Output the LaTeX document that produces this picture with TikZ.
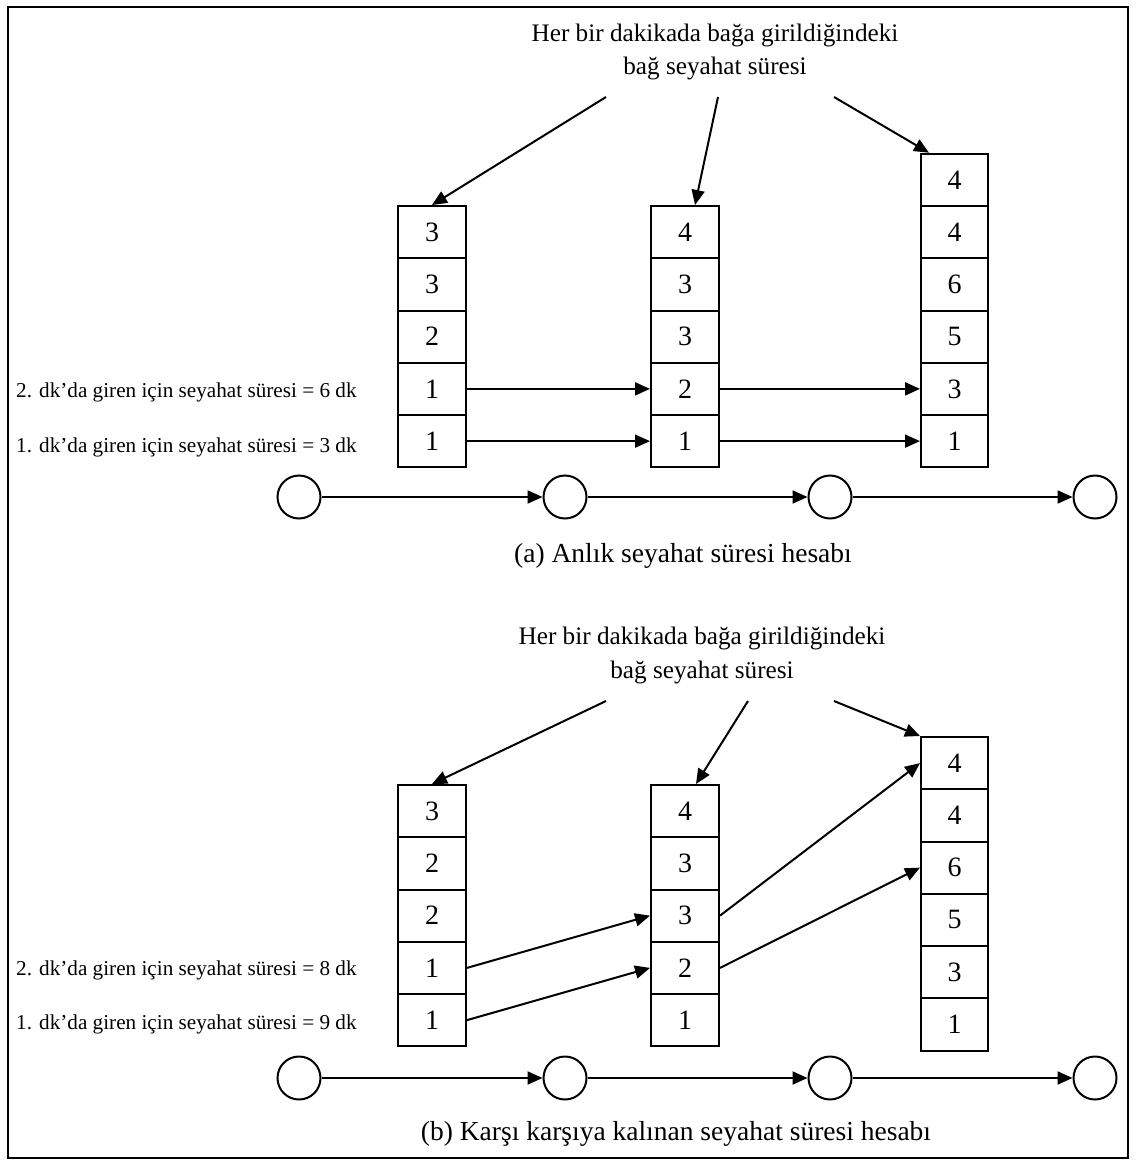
\documentclass[tikz,border=0pt]{standalone}
\usepackage{fontspec}
\setmainfont{Liberation Serif}
\usetikzlibrary{arrows.meta,calc}
\begin{document}
\begin{tikzpicture}[x=1pt,y=-1pt,
  cell/.style={draw,line width=2pt,minimum width=68pt,minimum height=52.25pt,
    inner sep=0pt,font=\fontsize{28}{30}\selectfont},
  junction/.style={draw,circle,line width=2pt,minimum size=43pt,inner sep=0pt},
  flow/.style={line width=2pt,-{Triangle[length=15pt,width=13pt]}},
  headtext/.style={font=\fontsize{25.2}{30}\selectfont,anchor=base,inner sep=0pt},
  sidetext/.style={font=\fontsize{21.2}{25}\selectfont,anchor=base west,inner sep=0pt},
  captext/.style={font=\fontsize{27.5}{30}\selectfont,anchor=base,inner sep=0pt}]

\useasboundingbox (0,0) rectangle (1135,1161);
\fill[white] (0,0) rectangle (1135,1161);
\draw[line width=1.4pt] (8,7) rectangle (1128,1158);

% ---------- (a) instantaneous travel time ----------
\node[headtext] (hdrA1) at (715,42) {Her bir dakikada bağa girildiğindeki};
\node[headtext] (hdrA2) at (715,75) {bağ seyahat süresi};

\foreach \v [count=\i] in {3,3,2,1,1}
  \node[cell] (a1r\i) at (432,{206+52.25*(\i-0.5)}) {\v};
\foreach \v [count=\i] in {4,3,3,2,1}
  \node[cell] (a2r\i) at (685,{206+52.25*(\i-0.5)}) {\v};
\foreach \v [count=\i] in {4,4,6,5,3,1}
  \node[cell,minimum width=67pt] (a3r\i) at (954.5,{153.75+52.25*(\i-0.5)}) {\v};

\coordinate (pa1) at (606,97);
\coordinate (pa2) at (718,97);
\coordinate (pa3) at (834,97);
\draw[flow] (pa1) -- (a1r1.north);
\draw[flow] (pa2) -- ([xshift=10pt]a2r1.north);
\draw[flow] (pa3) -- ([xshift=9pt]a3r1.north west);

\draw[flow] (a1r4.east) -- (a2r4.west);
\draw[flow] (a1r5.east) -- (a2r5.west);
\draw[flow] (a2r4.east) -- (a3r5.west);
\draw[flow] (a2r5.east) -- (a3r6.west);

\node[sidetext] (sideA2) at (16,397) {2. dk’da giren için seyahat süresi = 6 dk};
\node[sidetext] (sideA1) at (16,452) {1. dk’da giren için seyahat süresi = 3 dk};

\foreach \x [count=\i] in {299,565,830,1095}
  \node[junction] (an\i) at (\x,497) {};
\draw[flow] (an1) -- (an2);
\draw[flow] (an2) -- (an3);
\draw[flow] (an3) -- (an4);

\node[captext] (capA) at (683,562) {(a) Anlık seyahat süresi hesabı};

% ---------- (b) experienced travel time ----------
\node[headtext] (hdrB1) at (702,644) {Her bir dakikada bağa girildiğindeki};
\node[headtext] (hdrB2) at (702,678) {bağ seyahat süresi};

\foreach \v [count=\i] in {3,2,2,1,1}
  \node[cell] (b1r\i) at (432,{785+52.25*(\i-0.5)}) {\v};
\foreach \v [count=\i] in {4,3,3,2,1}
  \node[cell] (b2r\i) at (685,{785+52.25*(\i-0.5)}) {\v};
\foreach \v [count=\i] in {4,4,6,5,3,1}
  \node[cell,minimum width=67pt] (b3r\i) at (954.5,{737+52.25*(\i-0.5)}) {\v};

\coordinate (pb1) at (606,701);
\coordinate (pb2) at (748,701);
\coordinate (pb3) at (834,701);
\draw[flow] (pb1) -- (b1r1.north);
\draw[flow] (pb2) -- ([xshift=11pt]b2r1.north);
\draw[flow] (pb3) -- (b3r1.north west);

\draw[flow] (b1r4.east) -- (b2r3.west);
\draw[flow] (b1r5.east) -- (b2r4.west);
\draw[flow] (b2r3.east) -- (b3r1.west);
\draw[flow] (b2r4.east) -- (b3r3.west);

\node[sidetext] (sideB2) at (16,975) {2. dk’da giren için seyahat süresi = 8 dk};
\node[sidetext] (sideB1) at (16,1029) {1. dk’da giren için seyahat süresi = 9 dk};

\foreach \x [count=\i] in {299,565,830,1095}
  \node[junction] (bn\i) at (\x,1078) {};
\draw[flow] (bn1) -- (bn2);
\draw[flow] (bn2) -- (bn3);
\draw[flow] (bn3) -- (bn4);

\node[captext] (capB) at (676,1140) {(b) Karşı karşıya kalınan seyahat süresi hesabı};

\end{tikzpicture}
\end{document}
